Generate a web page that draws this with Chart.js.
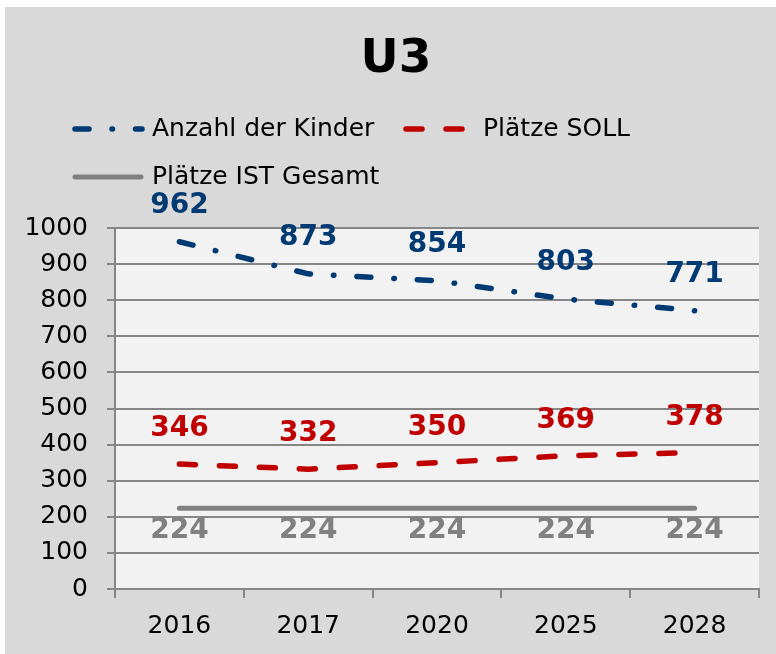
<!DOCTYPE html>
<html>
<head>
<meta charset="utf-8">
<script src="https://cdn.jsdelivr.net/npm/chart.js@4"></script>
<style>
  body { margin: 0; background: #fff; }
</style>
</head>
<body>
<canvas id="myChart" width="776" height="654"></canvas>
<script>
const years = ["2016", "2017", "2020", "2025", "2028"];
const kinder = [962, 873, 854, 803, 771];
const soll = [346, 332, 350, 369, 378];
const ist = [224, 224, 224, 224, 224];
const yTicks = [0, 100, 200, 300, 400, 500, 600, 700, 800, 900, 1000];
const chartTitle = "U3";

const canvasElement = document.getElementById("myChart");
const fontFamily = "'DejaVu Sans', Verdana, sans-serif";

//background + plot area
const backgroundPlugin = {
  id: "background",
  beforeDraw: (chart) => {
    const { ctx, chartArea } = chart;
    ctx.save();
    ctx.fillStyle = "#ffffff";
    ctx.fillRect(0, 0, chart.width, chart.height);
    ctx.fillStyle = "#d9d9d9";
    ctx.fillRect(5, 7, chart.width - 5, chart.height - 7);
    ctx.fillStyle = "#f2f2f2";
    ctx.fillRect(chartArea.left, chartArea.top, chartArea.right - chartArea.left, chartArea.bottom - chartArea.top);
    ctx.restore();
  },
};

//value labels above / below points
const valueLabels = {
  id: "valueLabels",
  afterDatasetsDraw: (chart) => {
    const ctx = chart.ctx;
    ctx.save();
    ctx.font = "bold 28px " + fontFamily;
    ctx.textAlign = "center";
    ctx.textBaseline = "middle";
    chart.data.datasets.forEach((ds, i) => {
      const meta = chart.getDatasetMeta(i);
      ctx.fillStyle = ds.borderColor;
      meta.data.forEach((pt, j) => {
        ctx.fillText(ds.data[j], pt.x, pt.y + ds.labelOffset);
      });
    });
    ctx.restore();
  },
};

//title + legend laid out like the original (two legend rows)
const legendSpots = [
  { x1: 75, x2: 142, y: 129, tx: 152 },
  { x1: 406, x2: 465, y: 129, tx: 483 },
  { x1: 75, x2: 141, y: 177, tx: 152 },
];
const titleAndLegend = {
  id: "titleAndLegend",
  afterDraw: (chart) => {
    const ctx = chart.ctx;
    ctx.save();
    ctx.fillStyle = "#000";
    ctx.font = "bold 47px " + fontFamily;
    ctx.textAlign = "center";
    ctx.textBaseline = "middle";
    ctx.fillText(chartTitle, 396, 60);

    chart.data.datasets.forEach((ds, i) => {
      const s = legendSpots[i];
      ctx.strokeStyle = ds.borderColor;
      ctx.lineWidth = ds.borderWidth;
      ctx.lineCap = "round";
      ctx.setLineDash(ds.borderDash || []);
      ctx.beginPath();
      ctx.moveTo(s.x1, s.y);
      ctx.lineTo(s.x2, s.y);
      ctx.stroke();
      ctx.setLineDash([]);
      ctx.fillStyle = "#000";
      ctx.font = "25px " + fontFamily;
      ctx.textAlign = "left";
      ctx.textBaseline = "middle";
      ctx.fillText(ds.label, s.tx, s.y);
    });
    ctx.restore();
  },
};

const data = {
  labels: years,
  datasets: [
    {
      label: "Anzahl der Kinder",
      data: kinder,
      borderColor: "#003a73",
      borderWidth: 5.5,
      borderDash: [14, 23, 0.5, 23],
      borderCapStyle: "round",
      labelOffset: -36,
    },
    {
      label: "Plätze SOLL",
      data: soll,
      borderColor: "#c00000",
      borderWidth: 5.5,
      borderDash: [16, 24],
      borderCapStyle: "round",
      labelOffset: -35,
    },
    {
      label: "Plätze IST Gesamt",
      data: ist,
      borderColor: "#808080",
      borderWidth: 5,
      borderCapStyle: "round",
      labelOffset: 23,
    },
  ],
};

const config = {
  type: "line",
  data,
  plugins: [backgroundPlugin, valueLabels, titleAndLegend],
  options: {
    responsive: false,
    animation: false,
    layout: {
      padding: { left: 0, right: 17, top: 228, bottom: 0 },
    },
    elements: {
      point: { radius: 0, hoverRadius: 0 },
      line: { tension: 0 },
    },
    scales: {
      x: {
        offset: true,
        afterFit: (scale) => {
          scale.height = 65;
        },
        grid: {
          offset: true,
          drawOnChartArea: false,
          tickLength: 9,
          color: "#868686",
          lineWidth: 2,
        },
        border: { color: "#868686", width: 2 },
        ticks: {
          color: "#000",
          padding: 13,
          font: { family: fontFamily, size: 25 },
        },
      },
      y: {
        min: 0,
        max: 1000,
        afterFit: (scale) => {
          scale.width = 115;
        },
        afterBuildTicks: (scale) => {
          scale.ticks = yTicks.map((v) => ({ value: v }));
        },
        grid: {
          tickLength: 8,
          color: "#868686",
          lineWidth: 2,
        },
        border: { color: "#868686", width: 2 },
        ticks: {
          color: "#000",
          padding: 19,
          font: { family: fontFamily, size: 25 },
          callback: (value) => String(value),
        },
      },
    },
    plugins: {
      legend: { display: false },
      tooltip: { enabled: false },
      title: { display: false },
    },
  },
};

//create chart
const myChart = new Chart(canvasElement, config);
</script>
</body>
</html>
